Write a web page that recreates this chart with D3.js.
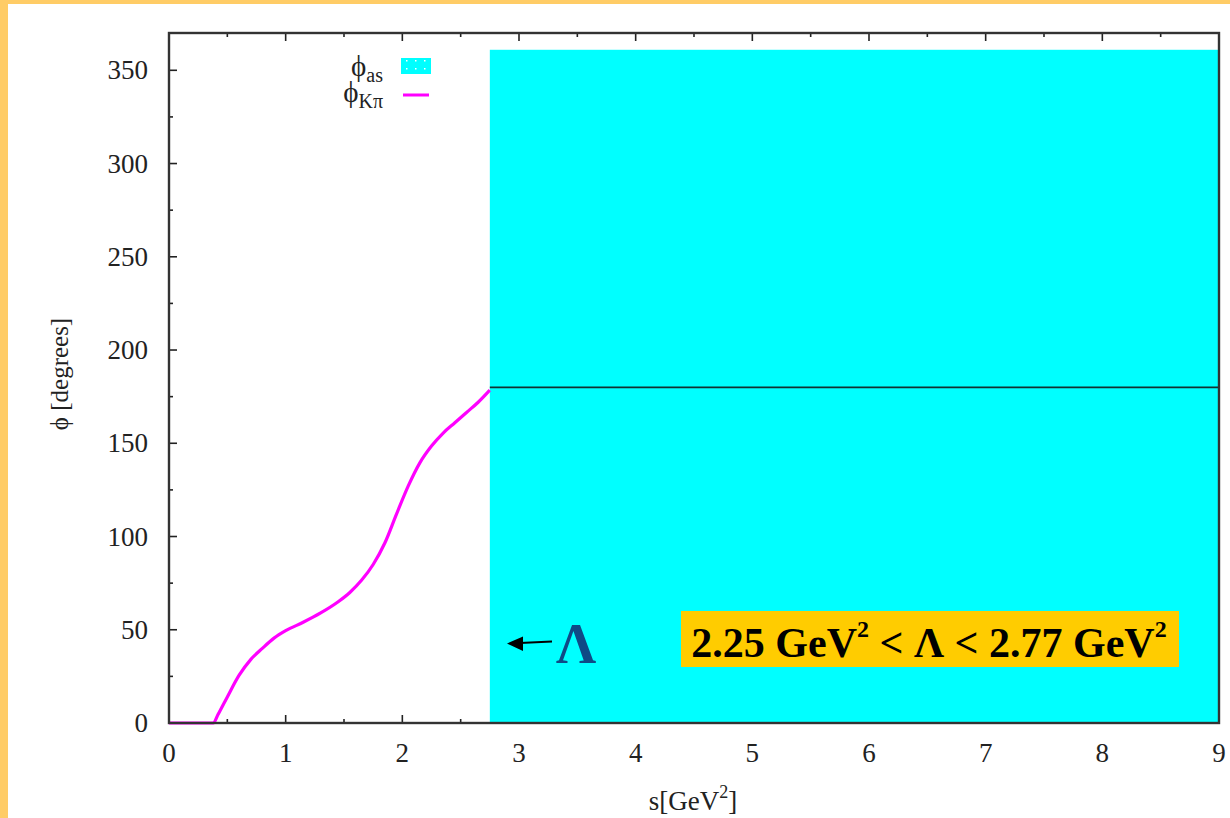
<!DOCTYPE html>
<html><head><meta charset="utf-8">
<script src="https://cdn.jsdelivr.net/npm/d3@7"></script>
<style>html,body{margin:0;padding:0;background:#FFCC66;}svg{display:block;}</style>
</head><body>
<svg id="c" width="1230" height="818"></svg>
<script>
// ---- data ----
const sValues   = [0, 0.38, 0.42, 0.5, 0.6, 0.7, 0.8, 0.9, 1.0, 1.15, 1.3, 1.45, 1.55, 1.65, 1.75, 1.85, 1.95, 2.05, 2.15, 2.25, 2.35, 2.45, 2.55, 2.65, 2.75];
const phiKpi    = [0, 0, 4.5, 14, 25.5, 34, 40, 45.5, 49.5, 54, 59, 65, 70, 76.5, 85, 96.5, 112, 127, 139.5, 148.5, 155.5, 161, 166.5, 172, 178.5];
const lambdaS   = 2.75;      // start of the asymptotic band
const phiAsTop  = 361;       // top of phi_as band
const phiAsLine = 180;       // asymptotic phase line
const xTicks    = [0,1,2,3,4,5,6,7,8,9];
const yTicks    = [0,50,100,150,200,250,300,350];
const legendLabels = [["ϕ","as"],["ϕ","Kπ"]];

const svg = d3.select("#c");
svg.append("rect").attr("x",0).attr("y",0).attr("width",1230).attr("height",818).attr("fill","#FFCC66");
svg.append("rect").attr("x",8).attr("y",4).attr("width",1222).attr("height",814).attr("fill","#ffffff");

const L=169,R=1219,T=33,B=723;
const x = d3.scaleLinear().domain([0,9]).range([L,R]);
const y = d3.scaleLinear().domain([0,370]).range([B,T]);

const serif = "'Liberation Serif','Times New Roman',serif";
const tc = "#222";

// ticks (major + minor, all sides)
const g = svg.append("g");
const xMinor = d3.range(0.5, 9, 1);
const yMinor = d3.range(25, 370, 50);
function vt(xv,len){
  g.append("line").attr("x1",x(xv)).attr("x2",x(xv)).attr("y1",B).attr("y2",B-len).attr("stroke","#222").attr("stroke-width",1.6);
  g.append("line").attr("x1",x(xv)).attr("x2",x(xv)).attr("y1",T).attr("y2",T+len).attr("stroke","#222").attr("stroke-width",1.6);
}
function ht(yv,len){
  g.append("line").attr("x1",L).attr("x2",L+len).attr("y1",y(yv)).attr("y2",y(yv)).attr("stroke","#222").attr("stroke-width",1.6);
  g.append("line").attr("x1",R).attr("x2",R-len).attr("y1",y(yv)).attr("y2",y(yv)).attr("stroke","#222").attr("stroke-width",1.6);
}
xTicks.forEach(v=>vt(v,8)); xMinor.forEach(v=>vt(v,4));
yTicks.forEach(v=>ht(v,8)); yMinor.forEach(v=>ht(v,4));

// cyan band phi_as
svg.append("rect").attr("x",x(lambdaS)).attr("y",y(phiAsTop))
  .attr("width",x(9)-x(lambdaS)).attr("height",y(0)-y(phiAsTop)).attr("fill","#00FFFF");

// phi_Kpi curve
const pts = sValues.map((s,i)=>[s,phiKpi[i]]);
svg.append("path").datum(pts)
  .attr("d", d3.line().x(d=>x(d[0])).y(d=>y(d[1])).curve(d3.curveMonotoneX))
  .attr("fill","none").attr("stroke","#FF00FF").attr("stroke-width",3.2).attr("stroke-linejoin","round");

// asymptotic line at 180
svg.append("line").attr("x1",x(lambdaS)).attr("x2",x(9)).attr("y1",y(phiAsLine)).attr("y2",y(phiAsLine))
  .attr("stroke","#113333").attr("stroke-width",1.8);

// frame
svg.append("rect").attr("x",L).attr("y",T).attr("width",R-L).attr("height",B-T)
  .attr("fill","none").attr("stroke","#333").attr("stroke-width",2.4);

// tick labels
xTicks.forEach(v=>svg.append("text").attr("x",x(v)).attr("y",762).attr("text-anchor","middle")
  .attr("font-family",serif).attr("font-size",27).attr("fill",tc).text(v));
yTicks.forEach(v=>svg.append("text").attr("x",148).attr("y",y(v)+9).attr("text-anchor","end")
  .attr("font-family",serif).attr("font-size",27).attr("fill",tc).text(v));

// axis titles
svg.append("text").attr("transform","translate(68,374) rotate(-90)").attr("text-anchor","middle")
  .attr("font-family",serif).attr("font-size",25).attr("fill",tc).text("ϕ [degrees]");
const xl = svg.append("text").attr("x",693).attr("y",810).attr("text-anchor","middle")
  .attr("font-family",serif).attr("font-size",27).attr("fill",tc);
xl.append("tspan").text("s[GeV");
xl.append("tspan").attr("dy",-12).attr("font-size",18).text("2");
xl.append("tspan").attr("dy",12).text("]");

// legend
const defs = svg.append("defs");
const pat = defs.append("pattern").attr("id","dots").attr("patternUnits","userSpaceOnUse")
  .attr("width",9).attr("height",8).attr("x",401).attr("y",58);
pat.append("rect").attr("width",9).attr("height",8).attr("fill","#00FFFF");
pat.append("rect").attr("x",5).attr("y",2).attr("width",1.5).attr("height",1.5).attr("fill","#fff");
legendLabels.forEach((lab,i)=>{
  const t = svg.append("text").attr("x",383).attr("y",76+i*26).attr("text-anchor","end")
    .attr("font-family",serif).attr("font-size",29).attr("fill",tc);
  t.append("tspan").text(lab[0]);
  t.append("tspan").attr("dy",6).attr("font-size",20).text(lab[1]);
});
svg.append("rect").attr("x",401).attr("y",58).attr("width",30).attr("height",16).attr("fill","url(#dots)");
svg.append("line").attr("x1",403).attr("x2",429).attr("y1",95).attr("y2",95).attr("stroke","#FF00FF").attr("stroke-width",3);

// arrow + Lambda
svg.append("line").attr("x1",552).attr("y1",641.5).attr("x2",520).attr("y2",643)
  .attr("stroke","#000").attr("stroke-width",2.2);
svg.append("path").attr("d","M523,636.5 L507,643.5 L523,651 Z").attr("fill","#000");
svg.append("text").attr("x",556).attr("y",663).attr("font-family",serif).attr("font-weight","bold")
  .attr("font-size",56).attr("fill","#0F4A86").text("Λ");

// annotation box
svg.append("rect").attr("x",681).attr("y",611).attr("width",498).attr("height",56).attr("fill","#FFCC00");
const at = svg.append("text").attr("x",929).attr("y",657).attr("text-anchor","middle")
  .attr("font-family",serif).attr("font-weight","bold").attr("font-size",42).attr("fill","#000");
at.append("tspan").text("2.25 GeV");
at.append("tspan").attr("dy",-20).attr("font-size",24).text("2");
at.append("tspan").attr("dy",20).text(" < Λ < 2.77 GeV");
at.append("tspan").attr("dy",-20).attr("font-size",24).text("2");
</script>
</body></html>
